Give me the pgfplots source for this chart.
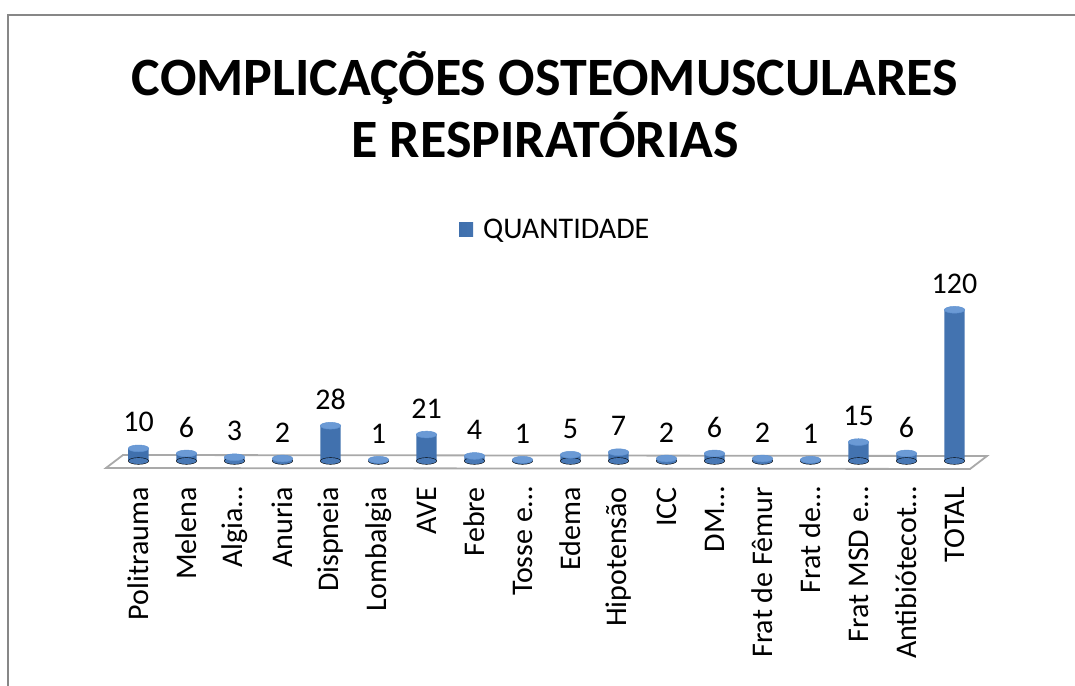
\documentclass[border=0pt]{standalone}
\usepackage{pgfplots}
\usepackage{pgfplotstable}
\pgfplotsset{compat=1.18}
\usepackage{fontspec}
\setmainfont{Carlito}

\definecolor{barL}{HTML}{4070AD}
\definecolor{barM}{HTML}{5F92D2}
\definecolor{barR}{HTML}{4373B0}
\definecolor{barTop}{HTML}{6B9AD5}
\definecolor{barBot}{HTML}{4878B5}
\definecolor{legblue}{HTML}{4F81BD}
\definecolor{floorgray}{HTML}{A9A9A9}
\definecolor{framegray}{HTML}{878787}

\pgfplotstableread{
x y
0 10
1 6
2 3
3 2
4 28
5 1
6 21
7 4
8 1
9 5
10 7
11 2
12 6
13 2
14 1
15 15
16 6
17 120
}\quantidade

\begin{document}
\begin{tikzpicture}[x=1bp,y=1bp]
\useasboundingbox (0,0) rectangle (1075,686);
% frame of the chart area (right and bottom edges lie off the picture)
\draw[framegray, line width=2bp] (8,-5) -- (8,671) -- (1080,671);

% title
\node[font=\fontsize{54bp}{62bp}\selectfont\bfseries, align=center] at (545,581)
  {COMPLICAÇÕES OSTEOMUSCULARES\\E RESPIRATÓRIAS};

% floor of the 3-D plot
\draw[floorgray, line width=1.8bp, fill=white] (106,218) -- (123,231) -- (987,230) -- (970,217) -- cycle;

\begin{axis}[
  at={(90.5bp,225bp)}, anchor=south west,
  scale only axis, width=912bp, height=163.8bp,
  xmin=-1, xmax=18, ymin=0, ymax=130,
  clip=false,
  axis line style={draw=none},
  ytick=\empty,
  xtick=data,
  xticklabels={Politrauma, Melena, Algia…, Anuria, Dispneia, Lombalgia, AVE, Febre,
    Tosse e…, Edema, Hipotensão, ICC, DM…, Frat de Fêmur, Frat de…, Frat MSD e…,
    Antibiótecot…, TOTAL},
  major tick length=0pt,
  xticklabel style={rotate=90, anchor=east, inner sep=0pt,
    font=\fontsize{30bp}{32bp}\selectfont},
  xticklabel shift=26bp,
  /pgf/number format/assume math mode=true,
  legend style={at={(0.404,1.416)}, anchor=west, draw=none, fill=none,
    font=\fontsize{30bp}{32bp}\selectfont, inner sep=0pt},
  legend image code/.code={\fill[legblue] (0bp,-7bp) rectangle (14bp,7bp);},
  legend cell align=left,
  legend style={/tikz/every even column/.append style={column sep=0pt}},
]
% rounded bottoms of the cylinders
\addplot[only marks, mark=*, mark size=10.2bp, forget plot,
  mark options={draw=none, fill=barBot, yscale=0.33}] table[x=x,y expr=0] {\quantidade};
% cylinder bodies
\addplot[ybar, bar width=20.4bp, draw=none, left color=barL, middle color=barM, right color=barR,
  nodes near coords,
  every node near coord/.append style={font=\fontsize{30bp}{32bp}\selectfont,
    text=black, inner sep=0pt, yshift=16bp}]
  table[x=x,y=y] {\quantidade};
\addlegendentry{\hspace{8bp}QUANTIDADE}
% cylinder tops
\addplot[only marks, mark=*, mark size=10.2bp, forget plot,
  mark options={draw=barM, line width=0.5bp, fill=barTop, yscale=0.33}] table[x=x,y=y] {\quantidade};
\end{axis}
\end{tikzpicture}
\end{document}
